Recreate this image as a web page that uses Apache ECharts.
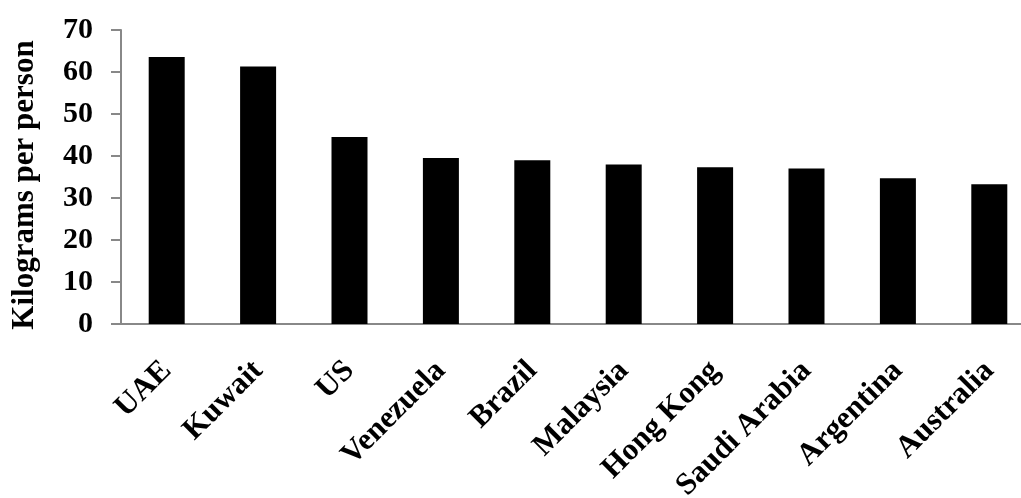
<!DOCTYPE html>
<html>
<head>
<meta charset="utf-8">
<script src="https://cdn.jsdelivr.net/npm/echarts@6/dist/echarts.min.js"></script>
<style>html,body{margin:0;padding:0;background:#fff;}#c{width:1021px;height:498px;}</style>
</head>
<body>
<div id="c"></div>
<script>
const categories = ['UAE','Kuwait','US','Venezuela','Brazil','Malaysia','Hong Kong','Saudi Arabia','Argentina','Australia'];
const values = [63.6, 61.3, 44.5, 39.5, 39.0, 38.0, 37.3, 37.0, 34.7, 33.3];
const yTicks = [0, 10, 20, 30, 40, 50, 60, 70];
const yTitle = 'Kilograms per person';

const font = 'Liberation Serif';
const chart = echarts.init(document.getElementById('c'), null, {renderer: 'canvas'});
chart.setOption({
  animation: false,
  backgroundColor: '#fff',
  grid: {left: 121, top: 30, width: 914, bottom: 174, containLabel: false, outerBoundsMode: 'none'},
  xAxis: {
    type: 'category',
    data: categories,
    axisLine: {lineStyle: {color: '#888', width: 2}},
    axisTick: {show: false},
    axisLabel: {rotate: 45, margin: 42, color: '#000', fontFamily: font, fontWeight: 'bold', fontSize: 31, interval: 0}
  },
  yAxis: {
    type: 'value',
    min: yTicks[0], max: yTicks[yTicks.length-1], interval: 10,
    name: yTitle,
    nameLocation: 'middle',
    nameGap: 81,
    nameRotate: 90,
    nameTextStyle: {color: '#000', fontFamily: font, fontWeight: 'bold', fontSize: 31, padding: [0, 16, 0, 0]},
    axisLine: {show: true, lineStyle: {color: '#888', width: 2}},
    axisTick: {show: true, length: 10, lineStyle: {color: '#888', width: 2}},
    splitLine: {show: false},
    axisLabel: {margin: 28, color: '#000', fontFamily: font, fontWeight: 'bold', fontSize: 30}
  },
  series: [{
    type: 'bar',
    data: values,
    barWidth: 36,
    itemStyle: {color: '#000'}
  }]
});
</script>
</body>
</html>
